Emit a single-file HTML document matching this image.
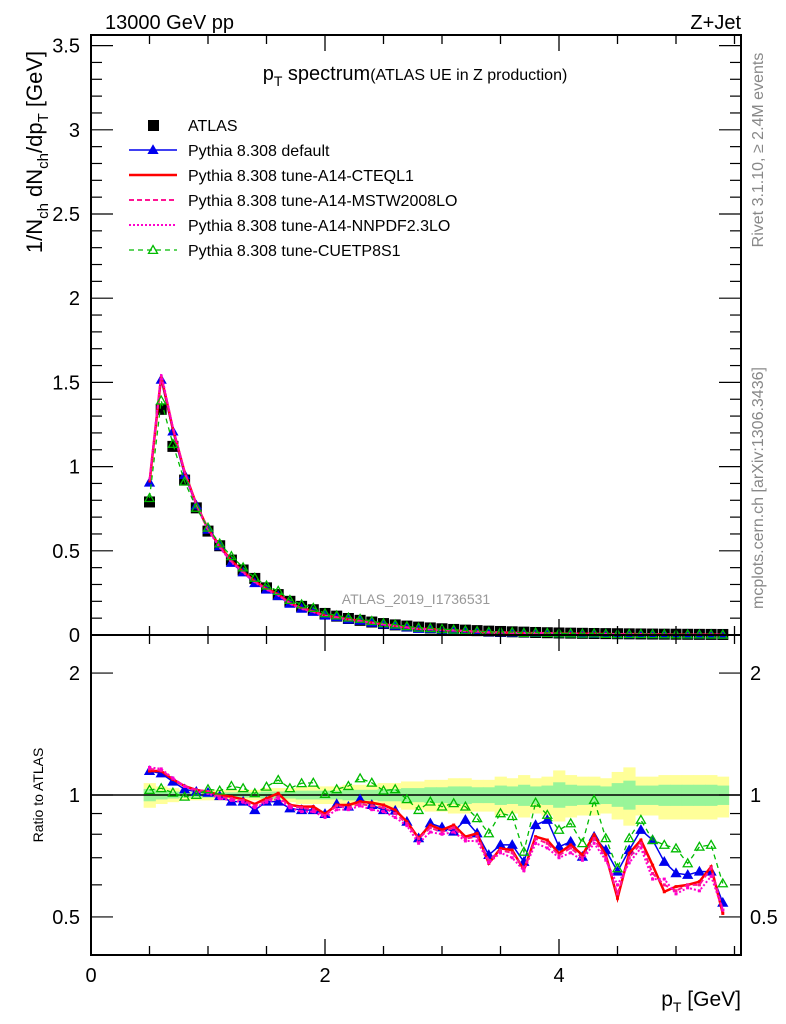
<!DOCTYPE html>
<html><head><meta charset="utf-8"><style>
html,body{margin:0;padding:0;background:#fff;}
svg{display:block;font-family:"Liberation Sans",Arial,sans-serif;}
</style></head><body>
<svg id="c" width="786" height="1024" viewBox="0 0 786 1024" xmlns="http://www.w3.org/2000/svg">
<rect x="0" y="0" width="786" height="1024" fill="#fff"/>
<g id="ratioBands"></g>
<g id="marks"></g>
<g id="axes"></g>
<text x="105" y="29" font-size="20">13000 GeV pp</text>
<text x="741" y="29" font-size="20" text-anchor="end">Z+Jet</text>
<text x="415" y="80" text-anchor="middle"><tspan font-size="20">p</tspan><tspan font-size="14" dy="6">T</tspan><tspan font-size="20" dy="-6"> spectrum</tspan><tspan font-size="16">(ATLAS UE in Z production)</tspan></text>
<text transform="translate(42,152) rotate(-90)" text-anchor="middle" font-size="22">1/N<tspan font-size="15" dy="6">ch</tspan><tspan dy="-6"> dN</tspan><tspan font-size="15" dy="6">ch</tspan><tspan dy="-6">/dp</tspan><tspan font-size="15" dy="6">T</tspan><tspan dy="-6"> [GeV]</tspan></text>
<text transform="translate(43,795) rotate(-90)" text-anchor="middle" font-size="14">Ratio to ATLAS</text>
<text x="741" y="1006" text-anchor="end" font-size="21">p<tspan font-size="14" dy="6">T</tspan><tspan dy="-6"> [GeV]</tspan></text>
<text transform="translate(763,150) rotate(-90)" text-anchor="middle" font-size="16" fill="#888">Rivet 3.1.10, ≥ 2.4M events</text>
<text transform="translate(763,488) rotate(-90)" text-anchor="middle" font-size="16" fill="#888">mcplots.cern.ch [arXiv:1306.3436]</text>
<text x="416" y="604" text-anchor="middle" font-size="14" fill="#999">ATLAS_2019_I1736531</text>
<g id="legend"></g>
</svg>
<script>
const xCenters=[0.5,0.6,0.7,0.8,0.9,1.0,1.1,1.2,1.3,1.4,1.5,1.6,1.7,1.8,1.9,2.0,2.1,2.2,2.3,2.4,2.5,2.6,2.7,2.8,2.9,3.0,3.1,3.2,3.3,3.4,3.5,3.6,3.7,3.8,3.9,4.0,4.1,4.2,4.3,4.4,4.5,4.6,4.7,4.8,4.9,5.0,5.1,5.2,5.3,5.4];
const atlasValues=[0.79,1.34,1.12,0.92,0.755,0.617,0.53,0.445,0.386,0.336,0.28,0.24,0.2,0.17,0.15,0.128,0.112,0.098,0.087,0.077,0.068,0.06,0.053,0.047,0.042,0.037,0.033,0.029,0.026,0.023,0.021,0.019,0.017,0.015,0.0135,0.012,0.011,0.01,0.009,0.0082,0.0075,0.0068,0.0062,0.0056,0.005,0.0046,0.0042,0.0038,0.0035,0.0032];
const ratioDefault=[1.146,1.131,1.079,1.033,1.019,1.013,0.994,0.963,0.963,0.918,0.963,0.963,0.927,0.918,0.918,0.898,0.95,0.936,0.976,0.945,0.918,0.915,0.859,0.782,0.851,0.832,0.812,0.868,0.804,0.711,0.753,0.753,0.684,0.843,0.868,0.745,0.767,0.704,0.789,0.731,0.647,0.731,0.82,0.774,0.684,0.641,0.635,0.647,0.647,0.542];
const ratioCTEQL1=[1.146,1.146,1.093,1.052,1.029,1.019,1.0,0.99,0.976,0.95,0.981,1.01,0.945,0.936,0.936,0.898,0.945,0.945,0.963,0.957,0.945,0.918,0.859,0.782,0.843,0.82,0.843,0.789,0.804,0.678,0.738,0.731,0.653,0.789,0.774,0.718,0.753,0.711,0.797,0.711,0.556,0.718,0.774,0.671,0.577,0.594,0.6,0.611,0.665,0.51];
const ratioMSTW=[1.16,1.15,1.1,1.05,1.03,1.02,0.99,0.98,0.97,0.94,0.97,0.99,0.94,0.93,0.92,0.89,0.94,0.93,0.95,0.94,0.93,0.9,0.85,0.78,0.83,0.81,0.83,0.78,0.79,0.69,0.73,0.72,0.66,0.78,0.76,0.71,0.74,0.7,0.78,0.7,0.57,0.7,0.76,0.64,0.6,0.58,0.6,0.6,0.66,0.52];
const ratioNNPDF=[1.17,1.16,1.1,1.05,1.02,1.01,0.98,0.97,0.96,0.93,0.96,0.98,0.93,0.91,0.91,0.88,0.92,0.92,0.94,0.92,0.91,0.88,0.84,0.76,0.81,0.8,0.81,0.77,0.77,0.68,0.72,0.7,0.65,0.76,0.74,0.7,0.72,0.69,0.76,0.69,0.6,0.68,0.74,0.62,0.62,0.57,0.59,0.58,0.63,0.52];
const ratioCUETP8S1=[1.029,1.039,1.013,0.99,1.0,1.033,1.025,1.052,1.039,1.01,1.048,1.089,1.039,1.069,1.072,1.006,1.033,1.052,1.099,1.072,1.025,1.033,0.976,0.918,0.963,0.936,0.954,0.936,0.876,0.804,0.901,0.887,0.724,0.957,0.893,0.82,0.851,0.76,0.972,0.782,0.659,0.782,0.868,0.774,0.753,0.738,0.678,0.745,0.753,0.605];
const bandYellowHi=[1.07,1.05,1.04,1.03,1.03,1.03,1.03,1.03,1.03,1.03,1.04,1.04,1.04,1.05,1.05,1.05,1.05,1.06,1.06,1.06,1.07,1.07,1.08,1.08,1.09,1.09,1.1,1.1,1.09,1.09,1.11,1.1,1.12,1.1,1.11,1.15,1.12,1.11,1.11,1.1,1.14,1.17,1.11,1.11,1.12,1.12,1.12,1.12,1.12,1.11];
const bandYellowLo=[0.93,0.95,0.96,0.97,0.97,0.97,0.97,0.97,0.97,0.97,0.96,0.96,0.96,0.95,0.95,0.95,0.95,0.94,0.94,0.94,0.93,0.93,0.92,0.92,0.91,0.91,0.9,0.9,0.91,0.91,0.89,0.9,0.88,0.9,0.89,0.86,0.88,0.89,0.89,0.9,0.87,0.84,0.89,0.89,0.87,0.87,0.87,0.87,0.87,0.88];
const bandGreenHi=[1.035,1.025,1.02,1.015,1.015,1.015,1.015,1.015,1.015,1.015,1.02,1.02,1.02,1.025,1.025,1.025,1.025,1.03,1.03,1.03,1.035,1.035,1.04,1.04,1.045,1.045,1.05,1.05,1.045,1.045,1.055,1.05,1.06,1.05,1.055,1.075,1.06,1.055,1.055,1.05,1.07,1.085,1.055,1.055,1.06,1.06,1.06,1.06,1.06,1.055];
const bandGreenLo=[0.965,0.975,0.98,0.985,0.985,0.985,0.985,0.985,0.985,0.985,0.98,0.98,0.98,0.975,0.975,0.975,0.975,0.97,0.97,0.97,0.965,0.965,0.96,0.96,0.955,0.955,0.95,0.95,0.955,0.955,0.945,0.95,0.94,0.95,0.945,0.93,0.94,0.945,0.945,0.95,0.935,0.92,0.945,0.945,0.94,0.94,0.94,0.94,0.94,0.945];
const mainYTicks=[0,0.5,1,1.5,2,2.5,3,3.5];
const mainYTickLabels=["0","0.5","1","1.5","2","2.5","3","3.5"];
const ratioYTicks=[0.5,1,2];
const ratioYTickLabels=["0.5","1","2"];
const xTicks=[0,2,4];
const xTickLabels=["0","2","4"];

const NS="http://www.w3.org/2000/svg";
const L=91,R=741,T=35,MB=635,RB=955;
const X=v=>L+v*117;
const Y=v=>MB-v*168.4;
const YR=v=>795-Math.log10(v)*405;
function mk(tag,attrs,parent){const e=document.createElementNS(NS,tag);for(const k in attrs)e.setAttribute(k,attrs[k]);parent.appendChild(e);return e;}
const bands=document.getElementById('ratioBands');
const marks=document.getElementById('marks');
const axes=document.getElementById('axes');
const legend=document.getElementById('legend');

xCenters.forEach((x,i)=>{
  const y=mk('rect',{x:X(x-0.05),width:117*0.1+0.5,y:YR(bandYellowHi[i]),height:YR(bandYellowLo[i])-YR(bandYellowHi[i]),fill:'#ffff99'},bands);
  
  
});
xCenters.forEach((x,i)=>{
  const g=mk('rect',{x:X(x-0.05),width:117*0.1+0.5,y:YR(bandGreenHi[i]),height:YR(bandGreenLo[i])-YR(bandGreenHi[i]),fill:'#99f599'},bands);
  
  
});
const unity=mk('line',{x1:L,x2:R,y1:YR(1),y2:YR(1),stroke:'#000','stroke-width':1.5},bands);



const series=[
  {name:'pythia-default',ratio:ratioDefault,color:'#0000ee',dash:'',w:1.5,marker:'tri-fill',label:'Pythia 8.308 default'},
  {name:'pythia-a14-cteql1',ratio:ratioCTEQL1,color:'#ff0000',dash:'',w:2.5,marker:'',label:'Pythia 8.308 tune-A14-CTEQL1'},
  {name:'pythia-a14-mstw2008lo',ratio:ratioMSTW,color:'#ff1493',dash:'5,3',w:2,marker:'',label:'Pythia 8.308 tune-A14-MSTW2008LO'},
  {name:'pythia-a14-nnpdf23lo',ratio:ratioNNPDF,color:'#ff00cc',dash:'2,2',w:2,marker:'',label:'Pythia 8.308 tune-A14-NNPDF2.3LO'},
  {name:'pythia-cuetp8s1',ratio:ratioCUETP8S1,color:'#00bb00',dash:'5,4',w:1.3,marker:'tri-open',label:'Pythia 8.308 tune-CUETP8S1'}
];
function tri(cx,cy,fill,color,parent,s){
  return mk('path',{d:`M${cx},${cy-s} L${cx+s},${cy+s*0.75} L${cx-s},${cy+s*0.75} Z`,fill:fill?color:'none',stroke:color,'stroke-width':1.3},parent);
}
xCenters.forEach((x,i)=>{
  const s=mk('rect',{x:X(x)-5.5,y:Y(atlasValues[i])-5.5,width:11,height:11,fill:'#000'},marks);
  
  
});
series.forEach(sr=>{
  const mainPts=xCenters.map((x,i)=>X(x)+','+Y(atlasValues[i]*sr.ratio[i])).join(' ');
  const pm=mk('polyline',{points:mainPts,fill:'none',stroke:sr.color,'stroke-width':sr.w,'stroke-dasharray':sr.dash},marks);
  
  
  const rPts=xCenters.map((x,i)=>X(x)+','+YR(sr.ratio[i])).join(' ');
  const pr=mk('polyline',{points:rPts,fill:'none',stroke:sr.color,'stroke-width':sr.w,'stroke-dasharray':sr.dash},marks);
  
  
  xCenters.forEach((x,i)=>{
    if(sr.marker){
      const a=tri(X(x),Y(atlasValues[i]*sr.ratio[i]),sr.marker==='tri-fill',sr.color,marks,4.5);
      
      
      const b=tri(X(x),YR(sr.ratio[i]),sr.marker==='tri-fill',sr.color,marks,4.5);
      
      
    } else {
      const b=mk('rect',{x:X(x)-1.5,y:YR(sr.ratio[i])-1.5,width:3,height:3,fill:sr.color},marks);
      
      
    }
  });
});

[[T,MB],[MB,RB]].forEach(([t,b],k)=>{
  const f=mk('rect',{x:L,y:t,width:R-L,height:b-t,fill:'none',stroke:'#000','stroke-width':2},axes);
  
  
});
for(let v=0;v<=5.5;v+=0.5){
  const major=Math.abs(v%2)<1e-6;
  const len=major?16:9;
  [[T,1],[MB,-1],[MB,1],[RB,-1]].forEach(([yy,dir])=>{
    mk('line',{x1:X(v),x2:X(v),y1:yy,y2:yy+dir*len,stroke:'#000','stroke-width':1.3},axes);
  });
}
xTicks.forEach((v,i)=>{
  const t=mk('text',{x:X(v),y:982,'font-size':20,'text-anchor':'middle'},axes);
  t.textContent=xTickLabels[i];
  
  
});
for(let k=0;k<=35;k++){
  const v=k/10;const major=k%5===0;const len=major?22:11;
  mk('line',{x1:L,x2:L+len,y1:Y(v),y2:Y(v),stroke:'#000','stroke-width':1.2},axes);
  mk('line',{x1:R,x2:R-len,y1:Y(v),y2:Y(v),stroke:'#000','stroke-width':1.2},axes);
}
mainYTicks.forEach((v,i)=>{
  const t=mk('text',{x:80,y:Y(v)+7,'font-size':20,'text-anchor':'end'},axes);
  t.textContent=mainYTickLabels[i];
  
  
});
[0.5,0.6,0.7,0.8,0.9,1,2].forEach(v=>{
  const major=(v===0.5||v===1||v===2);const len=major?22:11;
  mk('line',{x1:L,x2:L+len,y1:YR(v),y2:YR(v),stroke:'#000','stroke-width':1.2},axes);
  mk('line',{x1:R,x2:R-len,y1:YR(v),y2:YR(v),stroke:'#000','stroke-width':1.2},axes);
});
ratioYTicks.forEach((v,i)=>{
  const t=mk('text',{x:80,y:YR(v)+7,'font-size':20,'text-anchor':'end'},axes);
  t.textContent=ratioYTickLabels[i];
  
  
  const t2=mk('text',{x:750,y:YR(v)+7,'font-size':20,'text-anchor':'start'},axes);
  t2.textContent=ratioYTickLabels[i];
  
  
});

const legY=[125,150,175,200,225,250];
const e0=mk('rect',{x:148,y:legY[0]-5,width:11,height:11,fill:'#000'},legend);


const lt0=mk('text',{x:188,y:legY[0]+6,'font-size':16},legend);
lt0.textContent='ATLAS';


series.forEach((sr,i)=>{
  const y=legY[i+1];
  const l=mk('line',{x1:129,x2:177,y1:y,y2:y,stroke:sr.color,'stroke-width':sr.w,'stroke-dasharray':sr.dash},legend);
  
  
  if(sr.marker){tri(153,y,sr.marker==='tri-fill',sr.color,legend,4.5);}
  const t=mk('text',{x:188,y:y+6,'font-size':16},legend);
  t.textContent=sr.label;
  
  
});
</script>
</body></html>
